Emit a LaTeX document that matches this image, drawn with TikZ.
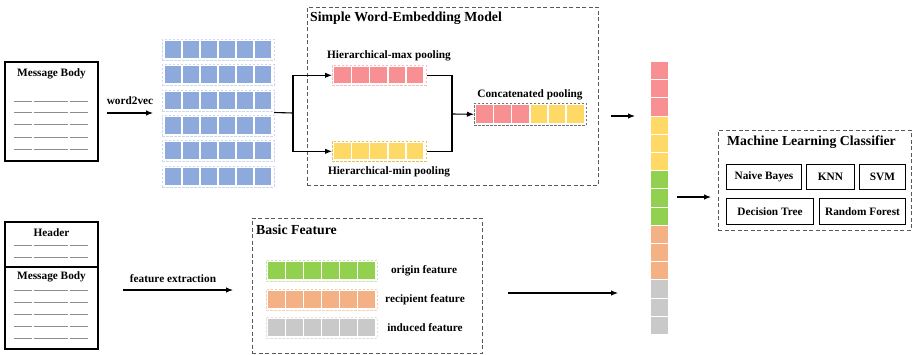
\documentclass[tikz,border=0pt]{standalone}
\usepackage{fontspec}
\setmainfont{Liberation Serif}
\usetikzlibrary{arrows.meta}
\definecolor{cblue}{HTML}{8EA9DB}
\definecolor{cpink}{HTML}{F78F93}
\definecolor{cyell}{HTML}{FFD966}
\definecolor{cgreen}{HTML}{92D050}
\definecolor{corange}{HTML}{F4B183}
\definecolor{cgrey}{HTML}{C9C9C9}
\tikzset{
  lbl/.style={font=\bfseries\fontsize{11.3}{13}\selectfont, inner sep=0pt},
  ttl/.style={font=\bfseries\fontsize{13.8}{16}\selectfont, inner sep=0pt},
  docbox/.style={draw, line width=1.3pt, inner sep=0pt},
  grp/.style={draw=black!65, dashed, dash pattern=on 4pt off 2.5pt, line width=0.9pt, inner sep=0pt},
  rowbox/.style={dashed, dash pattern=on 2.5pt off 1.5pt, line width=0.6pt, inner sep=0pt},
  arr/.style={-{Latex[length=7pt,width=5.5pt]}, line width=1.1pt},
  conn/.style={line width=1.1pt},
  clf/.style={draw, line width=1pt, inner sep=0pt, font=\bfseries\fontsize{11.3}{13}\selectfont},
  txtline/.style={draw=black!45, line width=0.5pt},
}
\begin{document}
\begin{tikzpicture}[x=1pt,y=-1pt]
\useasboundingbox[fill=white] (0,0) rectangle (912,354);

% ---------- top document ----------
\node[docbox, minimum width=93, minimum height=99] (doc1) at (51.5,111.5) {};
\node[lbl] (doc1t) at (51.5,74) {Message Body};
\foreach \y in {101,112,124,137,149}{
  \draw[txtline] (14,\y) -- (32,\y) (33.5,\y) -- (68,\y) (69.5,\y) -- (88,\y);
}

% word2vec arrow
\coordinate (w2vs) at (107,113);
\coordinate (w2ve) at (153,113);
\draw[arr] (w2vs) -- (w2ve);
\node[lbl] (w2vl) at (130,101) {word2vec};

% ---------- embedding matrix ----------
\node[minimum width=112, minimum height=147, inner sep=0pt] (emb) at (218,112.5) {};
\foreach \r in {0,...,5}{
  \pgfmathsetmacro{\tp}{39+25.3*\r}
  \node[rowbox, draw=cblue!45, minimum width=112, minimum height=21, anchor=north west] (er\r) at (162,\tp) {};
  \foreach \i in {0,...,5}{
    \fill[cblue] (164.5+\i*18,\tp+2) rectangle ++(16.5,17);
  }
}

% ---------- SWEM box ----------
\node[grp, minimum width=291, minimum height=178, anchor=north west] (swem) at (307,7) {};
\node[ttl, anchor=west] (swemt) at (310,18.5) {Simple Word-Embedding Model};

% max pooling row
\node[rowbox, draw=cpink!60, minimum width=94, minimum height=20, anchor=north west] (maxrow) at (332,65) {};
\foreach \i in {0,...,4}{\fill[cpink] (334+\i*18.2,67) rectangle ++(16.5,16);}
\node[lbl] (maxl) at (389,56) {Hierarchical-max pooling};

% min pooling row
\node[rowbox, draw=cyell!90!black, minimum width=94, minimum height=20, anchor=north west] (minrow) at (332,141) {};
\foreach \i in {0,...,4}{\fill[cyell] (334+\i*18.2,143) rectangle ++(16.5,16);}
\node[lbl] (minl) at (389,172) {Hierarchical-min pooling};

% concat row
\node[rowbox, draw=black!55, minimum width=112, minimum height=22, anchor=north west] (concat) at (474,103) {};
\foreach \i in {0,1,2}{\fill[cpink] (476+\i*18.2,105) rectangle ++(16.5,18);}
\foreach \i in {3,4,5}{\fill[cyell] (476+\i*18.2,105) rectangle ++(16.5,18);}
\node[lbl] (concl) at (530,95) {Concatenated pooling};

% branch connectors
\coordinate (br) at (293,113);
\draw[conn] (emb.east) -- (br);
\draw[arr] (br) |- (maxrow.west);
\draw[arr] (br) |- (minrow.west);
\coordinate (mg) at (452,114);
\draw[conn] (maxrow.east) -| (mg);
\draw[conn] (minrow.east) -| (mg);
\draw[arr] (mg) -- (concat.west);

% ---------- bottom document ----------
\node[docbox, minimum width=93, minimum height=127] (doc2) at (51.5,285.5) {};
\draw[line width=1.3pt] (doc2.west |- 0,267) coordinate (dv1) -- (doc2.east |- 0,267) coordinate (dv2);
\node[lbl] (doc2h) at (51.5,233) {Header};
\node[lbl] (doc2m) at (51.5,277) {Message Body};
\foreach \y in {245,257,290,302,314,326,338}{
  \draw[txtline] (14,\y) -- (32,\y) (33.5,\y) -- (68,\y) (69.5,\y) -- (88,\y);
}

% feature extraction arrow
\coordinate (fes) at (123,290);
\coordinate (fee) at (233,290);
\draw[arr] (fes) -- (fee);
\node[lbl] (fel) at (173,279) {feature extraction};

% ---------- Basic feature ----------
\node[grp, minimum width=230, minimum height=135, anchor=north west] (basic) at (252,218) {};
\node[ttl, anchor=west] (basict) at (256,230) {Basic Feature};

\node[rowbox, draw=cgreen!50, minimum width=111, minimum height=21, anchor=north west] (orow) at (266,260) {};
\foreach \i in {0,...,5}{\fill[cgreen] (268+\i*18,262) rectangle ++(16.5,17);}
\node[lbl] (ol) at (424,271) {origin feature};

\node[rowbox, draw=corange!60, minimum width=111, minimum height=21, anchor=north west] (rrow) at (266,289) {};
\foreach \i in {0,...,5}{\fill[corange] (268+\i*18,291) rectangle ++(16.5,17);}
\node[lbl] (rl) at (425,300) {recipient feature};

\node[rowbox, draw=cgrey!60, minimum width=111, minimum height=21, anchor=north west] (irow) at (266,317) {};
\foreach \i in {0,...,5}{\fill[cgrey] (268+\i*18,319) rectangle ++(16.5,17);}
\node[lbl] (il) at (425,328) {induced feature};

% ---------- vector ----------
\node[minimum width=17, minimum height=273, inner sep=0pt, anchor=north west] (vec) at (651,62) {};
\foreach \i/\c in {0/cpink,1/cpink,2/cpink,3/cyell,4/cyell,5/cyell,6/cgreen,7/cgreen,8/cgreen,9/corange,10/corange,11/corange,12/cgrey,13/cgrey,14/cgrey}{
  \fill[\c] (651,62+\i*18.2) rectangle ++(17,17.2);
}

\coordinate (v1s) at (611,116);
\coordinate (v1e) at (635,116);
\draw[arr] (v1s) -- (v1e);
\coordinate (v2s) at (508,293);
\coordinate (v2e) at (618,293);
\draw[arr] (v2s) -- (v2e);

% ---------- classifier ----------
\node[grp, minimum width=193, minimum height=100, anchor=north west] (mlc) at (718,130) {};
\node[ttl, anchor=west] (mlct) at (727,142.5) {Machine Learning Classifier};
\node[clf, minimum width=75, minimum height=25, anchor=north west] (nb) at (726,164) {Naive Bayes};
\node[clf, minimum width=48, minimum height=25, anchor=north west] (knn) at (806,164) {KNN};
\node[clf, minimum width=46, minimum height=25, anchor=north west] (svm) at (859,164) {SVM};
\node[clf, minimum width=87, minimum height=26, anchor=north west] (dt) at (726,198) {Decision Tree};
\node[clf, minimum width=86, minimum height=26, anchor=north west] (rf) at (819,198) {Random Forest};

\coordinate (c1s) at (677,197);
\coordinate (c1e) at (711,197);
\draw[arr] (c1s) -- (c1e);
\end{tikzpicture}
\end{document}
